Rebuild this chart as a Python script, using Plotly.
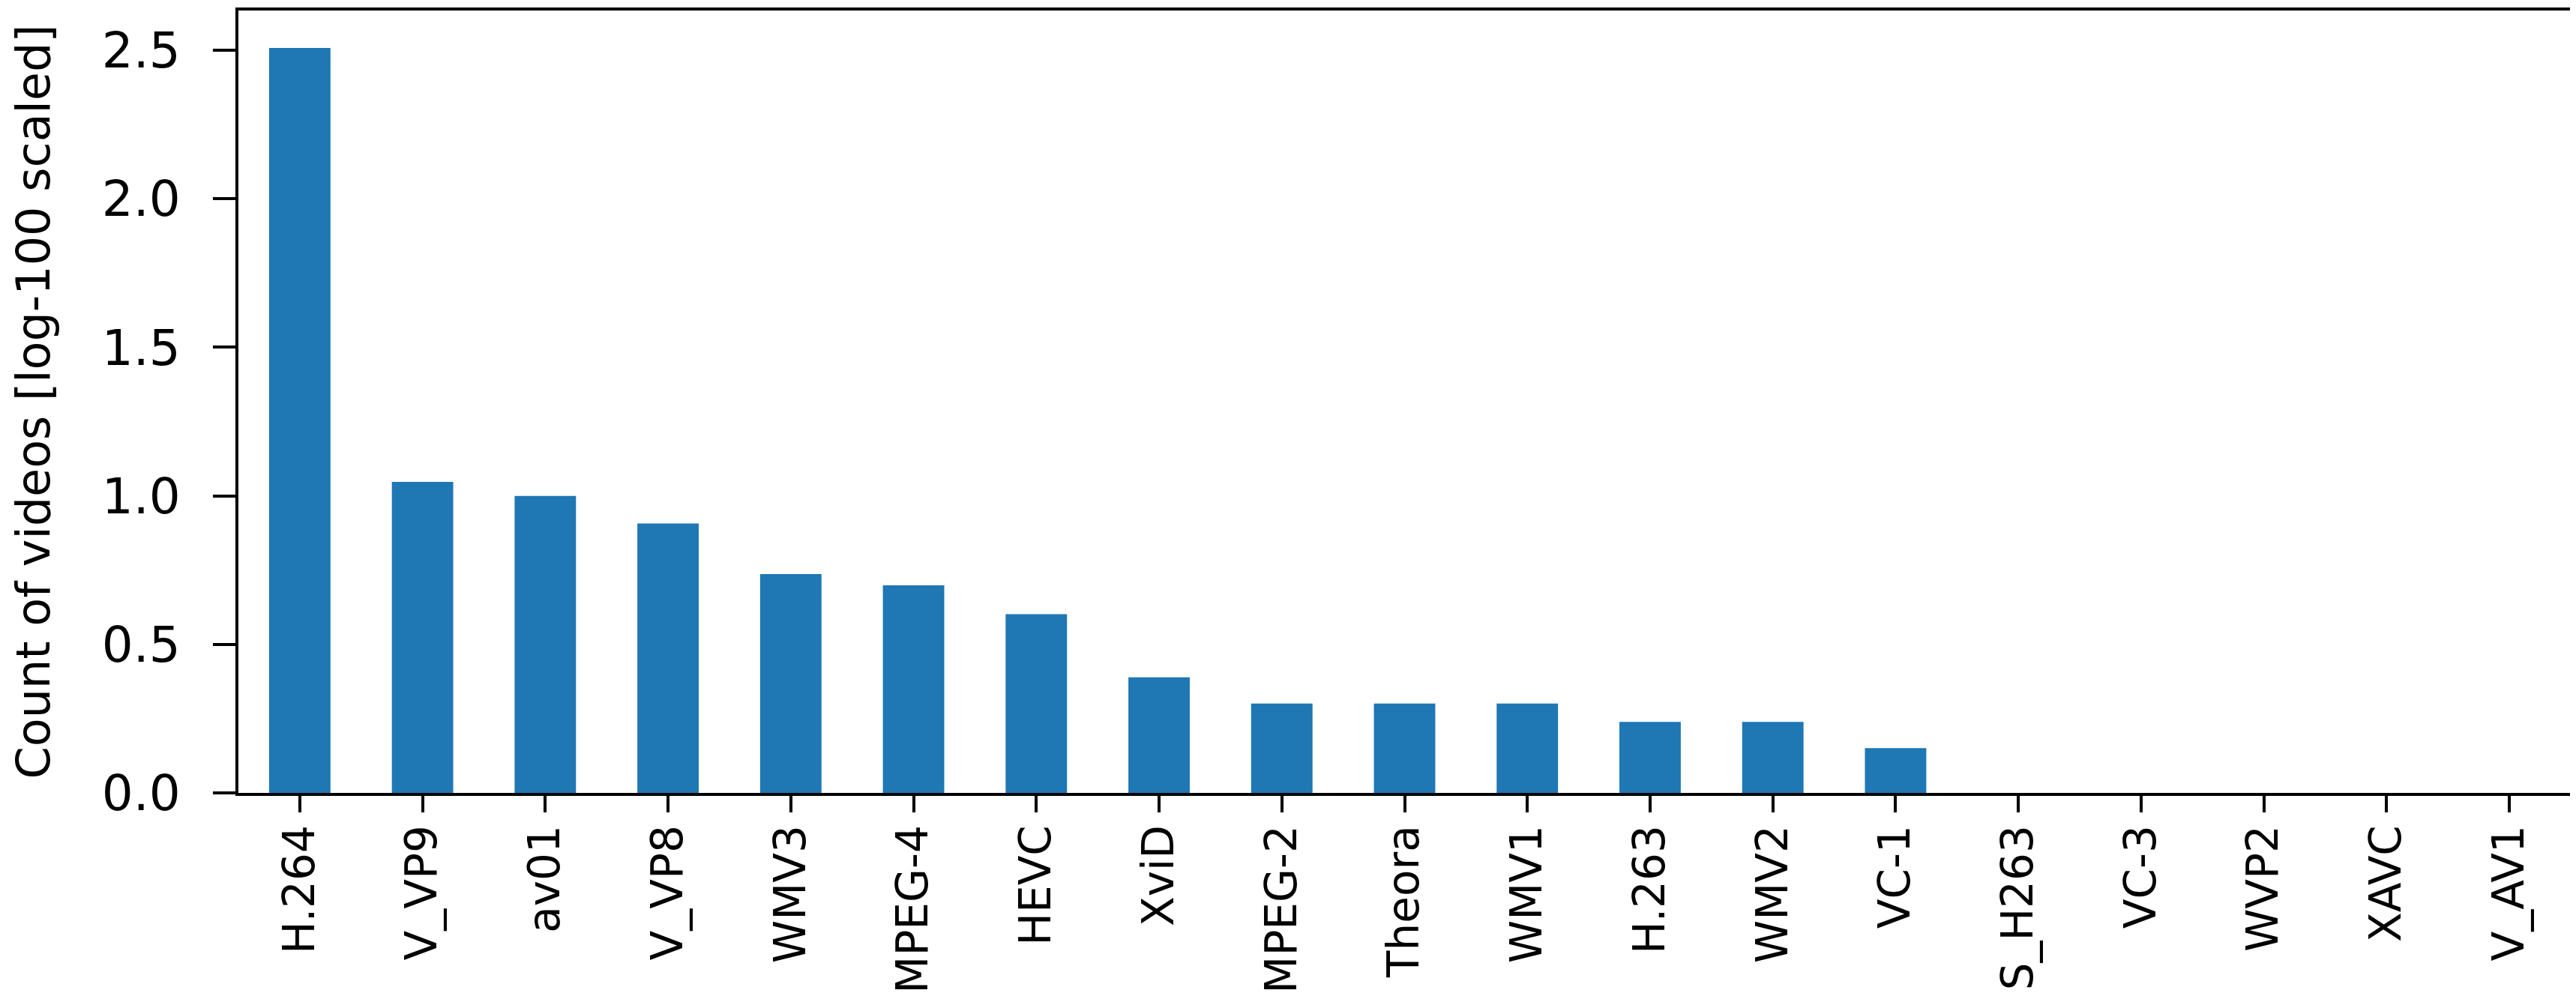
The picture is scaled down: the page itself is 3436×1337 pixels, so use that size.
import plotly.graph_objects as go

FONT = "DejaVu Sans, Verdana, sans-serif"
BAR_COLOR = "#1f77b4"

codecs = [
    "H.264", "V_VP9", "av01", "V_VP8", "WMV3", "MPEG-4", "HEVC", "XviD",
    "MPEG-2", "Theora", "WMV1", "H.263", "WMV2", "VC-1", "S_H263", "VC-3",
    "WVP2", "XAVC", "V_AV1",
]
# count of videos, log base 100
log100_counts = [
    2.508, 1.047, 1.000, 0.907, 0.737, 0.699, 0.602, 0.389,
    0.301, 0.301, 0.301, 0.239, 0.239, 0.151, 0.0, 0.0,
    0.0, 0.0, 0.0,
]
y_ticks = [0.0, 0.5, 1.0, 1.5, 2.0, 2.5]

fig = go.Figure()
fig.add_trace(
    go.Bar(
        x=codecs,
        y=log100_counts,
        width=0.5,
        marker_color=BAR_COLOR,
        marker_line_width=0,
    )
)

fig.update_layout(
    width=3436,
    height=1337,
    plot_bgcolor="#FFFFFF",
    paper_bgcolor="#FFFFFF",
    showlegend=False,
    margin=dict(l=310, r=15, t=6, b=287, autoexpand=False),
    font=dict(family=FONT, color="#000000"),
)

fig.update_xaxes(
    type="category",
    range=[-0.5, len(codecs) - 0.5],
    tickangle=-90,
    tickfont=dict(family=FONT, size=58, color="#000000"),
    ticks="outside",
    ticklen=22,
    tickwidth=4,
    tickcolor="#000000",
    ticklabelstandoff=-6,
    showline=True,
    linewidth=4,
    linecolor="#000000",
    mirror=True,
    showgrid=False,
    zeroline=False,
    automargin=False,
)

fig.update_yaxes(
    range=[0, 2.634],
    tickvals=y_ticks,
    ticktext=[f"{v:.1f}" for v in y_ticks],
    tickfont=dict(family=FONT, size=66, color="#000000"),
    ticks="outside",
    ticklen=30,
    tickwidth=4,
    tickcolor="#000000",
    ticklabelstandoff=30,
    showline=True,
    linewidth=4,
    linecolor="#000000",
    mirror=True,
    showgrid=False,
    zeroline=False,
    automargin=False,
    title=dict(
        text="Count of videos [log-100 scaled]",
        font=dict(family=FONT, size=62, color="#000000"),
        standoff=55,
    ),
)

fig.write_html("out.html")
